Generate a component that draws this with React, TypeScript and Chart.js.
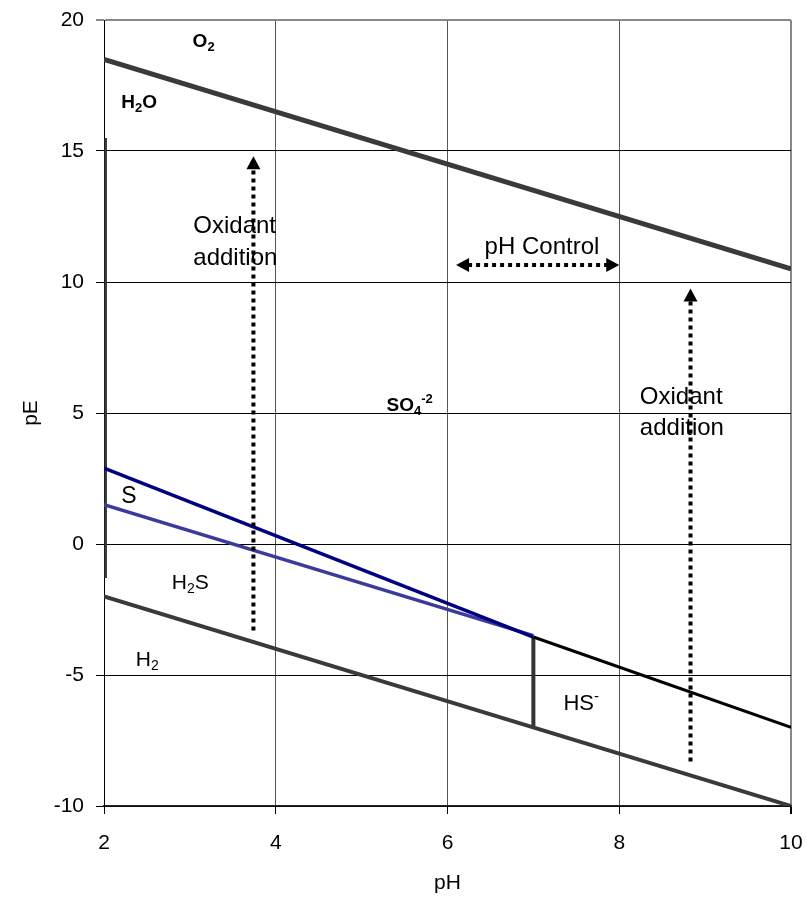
import React, { useEffect, useRef } from "react";
import { Chart, registerables } from "chart.js";

Chart.register(...registerables);

// ---- data (pH, pE) ----
const waterUpperPH = [2, 10];
const waterUpperPE = [18.5, 10.5];
const waterLowerPH = [2, 10];
const waterLowerPE = [-2, -10];
const so4SPH = [2, 7];
const so4SPE = [2.9, -3.55];
const sH2sPH = [2, 7];
const sH2sPE = [1.5, -3.5];
const so4HsPH = [7, 10];
const so4HsPE = [-3.55, -7];
const h2sHsPH = [7, 7];
const h2sHsPE = [-3.55, -7];
const leftEdgePH = [2.02, 2.02];
const leftEdgePE = [15.5, -1.3];

// arrows: [x1, y1, x2, y2]
const oxidantArrowLeft = [3.74, -3.3, 3.74, 14.8];
const oxidantArrowRight = [8.83, -8.3, 8.83, 9.75];
const phControlArrow = [6.1, 10.65, 8.0, 10.65];

// tick labels
const xTicks = [2, 4, 6, 8, 10];
const yTicks = [-10, -5, 0, 5, 10, 15, 20];

const FONT = "'Liberation Sans', Arial, sans-serif";

function pts(xs: number[], ys: number[]) {
  return xs.map((x, i) => ({ x, y: ys[i] }));
}

type Part = { t: string; kind?: "sub" | "sup" };
type Label = { x: number; y: number; parts: Part[]; size: number; bold?: boolean; align?: "left" | "center" };

const labels: Label[] = [
  { x: 3.16, y: 19.16, parts: [{ t: "O" }, { t: "2", kind: "sub" }], size: 19, bold: true, align: "center" },
  { x: 2.2, y: 16.83, parts: [{ t: "H" }, { t: "2", kind: "sub" }, { t: "O" }], size: 19, bold: true },
  { x: 5.29, y: 5.27, parts: [{ t: "SO" }, { t: "4", kind: "sub" }, { t: "-2", kind: "sup" }], size: 19, bold: true },
  { x: 2.2, y: 1.8, parts: [{ t: "S" }], size: 23 },
  { x: 2.79, y: -1.51, parts: [{ t: "H" }, { t: "2", kind: "sub" }, { t: "S" }], size: 21 },
  { x: 2.37, y: -4.44, parts: [{ t: "H" }, { t: "2", kind: "sub" }], size: 21 },
  { x: 7.35, y: -6.12, parts: [{ t: "HS" }, { t: "-", kind: "sup" }], size: 22 },
  { x: 3.04, y: 12.12, parts: [{ t: "Oxidant" }], size: 24 },
  { x: 3.04, y: 10.9, parts: [{ t: "addition" }], size: 24 },
  { x: 7.1, y: 11.33, parts: [{ t: "pH Control" }], size: 24, align: "center" },
  { x: 8.24, y: 5.61, parts: [{ t: "Oxidant" }], size: 24 },
  { x: 8.24, y: 4.41, parts: [{ t: "addition" }], size: 24 },
];

const overlayPlugin = {
  id: "overlay",
  afterDatasetsDraw(chart: any) {
    const { ctx, scales } = chart;
    const xs = scales.x;
    const ys = scales.y;
    ctx.save();
    const drawHead = (x: number, y: number, dx: number, dy: number) => {
      const len = Math.hypot(dx, dy);
      const ux = dx / len, uy = dy / len;
      const L = 13, W = 7;
      ctx.beginPath();
      ctx.moveTo(x, y);
      ctx.lineTo(x - ux * L - uy * W, y - uy * L + ux * W);
      ctx.lineTo(x - ux * L + uy * W, y - uy * L - ux * W);
      ctx.closePath();
      ctx.fillStyle = "#000";
      ctx.fill();
    };
    const drawArrow = (a: number[], both: boolean) => {
      const x1 = xs.getPixelForValue(a[0]);
      const y1 = ys.getPixelForValue(a[1]);
      const x2 = xs.getPixelForValue(a[2]);
      const y2 = ys.getPixelForValue(a[3]);
      const dx = x2 - x1, dy = y2 - y1;
      const len = Math.hypot(dx, dy);
      const ux = dx / len, uy = dy / len;
      const sx = both ? x1 + ux * 12 : x1;
      const sy = both ? y1 + uy * 12 : y1;
      ctx.beginPath();
      ctx.setLineDash([4, 4]);
      ctx.lineWidth = 4;
      ctx.strokeStyle = "#000";
      ctx.lineCap = "butt";
      ctx.moveTo(sx, sy);
      ctx.lineTo(x2 - ux * 12, y2 - uy * 12);
      ctx.stroke();
      ctx.setLineDash([]);
      drawHead(x2, y2, dx, dy);
      if (both) drawHead(x1, y1, -dx, -dy);
    };
    drawArrow(oxidantArrowLeft, false);
    drawArrow(oxidantArrowRight, false);
    drawArrow(phControlArrow, true);

    ctx.fillStyle = "#000";
    ctx.textBaseline = "middle";
    ctx.textAlign = "left";
    for (const lb of labels) {
      const w = lb.bold ? "bold " : "";
      const fMain = `${w}${lb.size}px ${FONT}`;
      const fSmall = `${w}${Math.round(lb.size * 0.66)}px ${FONT}`;
      let total = 0;
      for (const p of lb.parts) {
        ctx.font = p.kind ? fSmall : fMain;
        total += ctx.measureText(p.t).width;
      }
      let px = xs.getPixelForValue(lb.x);
      const py = ys.getPixelForValue(lb.y);
      if (lb.align === "center") px -= total / 2;
      for (const p of lb.parts) {
        ctx.font = p.kind ? fSmall : fMain;
        let oy = 0;
        if (p.kind === "sub") oy = lb.size * 0.28;
        if (p.kind === "sup") oy = -lb.size * 0.35;
        ctx.fillText(p.t, px, py + oy);
        px += ctx.measureText(p.t).width;
      }
    }
    ctx.restore();
  },
};

export default function App() {
  const ref = useRef<HTMLCanvasElement | null>(null);
  useEffect(() => {
    document.body.style.margin = "0";
    const line = (xs: number[], ys: number[], color: string, width: number) => ({
      data: pts(xs, ys),
      borderColor: color,
      backgroundColor: color,
      borderWidth: width,
      pointRadius: 0,
      showLine: true,
      fill: false,
      borderCapStyle: "butt" as const,
    });
    const chart = new Chart(ref.current as HTMLCanvasElement, {
      type: "scatter",
      data: {
        datasets: [
          line(waterUpperPH, waterUpperPE, "#3a3a3a", 5),
          line(waterLowerPH, waterLowerPE, "#3a3a3a", 4),
          line(so4SPH, so4SPE, "#000080", 3.5),
          line(sH2sPH, sH2sPE, "#3b3b9e", 3.5),
          line(so4HsPH, so4HsPE, "#000000", 3),
          line(h2sHsPH, h2sHsPE, "#333333", 4),
          line(leftEdgePH, leftEdgePE, "#3a3a3a", 2.5),
        ],
      },
      options: {
        animation: false,
        responsive: false,
        maintainAspectRatio: false,
        layout: { padding: { top: 20, right: 16, left: 0, bottom: 0 } },
        plugins: { legend: { display: false }, tooltip: { enabled: false } },
        scales: {
          x: {
            type: "linear",
            min: 2,
            max: 10,
            afterBuildTicks: (s: any) => {
              s.ticks = xTicks.map((v) => ({ value: v }));
            },
            afterFit: (s: any) => {
              s.height = 93;
              s.paddingLeft = 0;
              s.paddingRight = 0;
            },
            ticks: {
              font: { family: FONT, size: 21 },
              color: "#000",
              padding: 17,
            },
            grid: {
              color: (c: any) => (c.tick && c.tick.value === 10 ? "#888" : "#555"),
              lineWidth: (c: any) => (c.tick && c.tick.value === 10 ? 2 : 1),
              tickColor: "#000",
              tickLength: 8,
            },
            border: { color: "#222", width: 1.5 },
            title: {
              display: true,
              text: "pH",
              font: { family: FONT, size: 21 },
              color: "#000",
              padding: { top: 0, bottom: 3 },
            },
          },
          y: {
            type: "linear",
            min: -10,
            max: 20,
            afterBuildTicks: (s: any) => {
              s.ticks = yTicks.map((v) => ({ value: v }));
            },
            afterFit: (s: any) => {
              s.width = 104;
              s.paddingTop = 0;
              s.paddingBottom = 0;
            },
            ticks: {
              font: { family: FONT, size: 21 },
              color: "#000",
              padding: 12,
            },
            grid: {
              color: (c: any) => (c.tick && c.tick.value === 20 ? "#888" : "#000"),
              lineWidth: (c: any) => (c.tick && c.tick.value === 20 ? 2 : 1),
              tickColor: (c: any) => (c.tick && c.tick.value === 20 ? "#888" : "#000"),
              tickLength: 8,
            },
            border: { color: "#000", width: 1 },
            title: {
              display: true,
              text: "pE",
              font: { family: FONT, size: 21 },
              color: "#000",
              padding: { top: 19, bottom: 0 },
            },
          },
        },
      },
      plugins: [overlayPlugin],
    });
    return () => chart.destroy();
  }, []);
  return (
    <div style={{ width: 807, height: 899 }}>
      <canvas ref={ref} width={807} height={899} style={{ display: "block" }} />
    </div>
  );
}
